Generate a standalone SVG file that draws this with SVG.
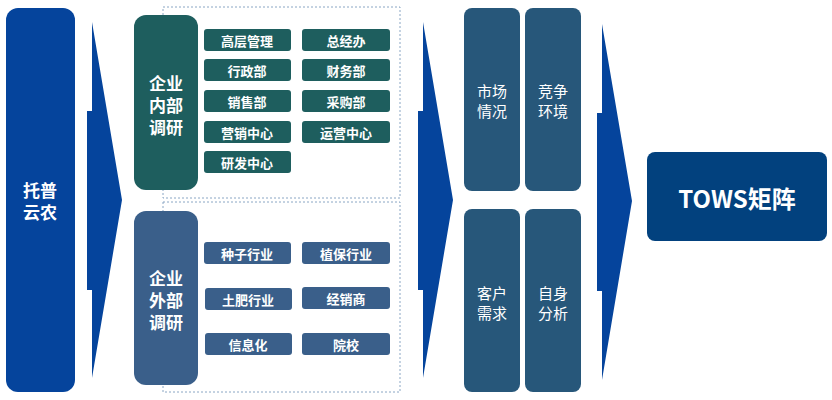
<svg xmlns="http://www.w3.org/2000/svg" width="832" height="400" viewBox="0 0 832 400">
<style>
text{font-family:"Noto Sans CJK SC","Liberation Sans",sans-serif;fill:#fff;text-anchor:middle;dominant-baseline:central}
.b{font-weight:bold}
.s{font-size:13px;font-weight:bold}
.dash{fill:none;stroke:#8aa6c4;stroke-width:1;stroke-dasharray:2 2}
.arr{fill:#05449c}
.tk{fill:#1e5e5e}
.bl{fill:#3a5f8a}
.mk{fill:#27577a}
</style>
<g id="connectors">
<polygon class="arr" points="92,22 122,200 92,378 92,290 87,290 87,111 92,111"/>
<polygon class="arr" points="423,22 453,200 423,378 423,290 418,290 418,111 423,111"/>
<polygon class="arr" points="602,24 632,201 602,380 602,291 597,291 597,113 602,113"/>
</g>
<g id="tuopu"><rect x="6" y="8" width="69" height="384" rx="12" fill="#05449c"/><text x="40" y="189" font-size="17" class="b">托普</text><text x="40" y="211" font-size="17" class="b">云农</text></g>
<rect class="dash" x="163" y="7" width="237" height="191"/>
<rect class="dash" x="163" y="202" width="237" height="190"/>
<g id="internal"><rect class="tk" x="134" y="15" width="64" height="175" rx="12"/>
<text x="166" y="82" font-size="17" class="b">企业</text><text x="166" y="104" font-size="17" class="b">内部</text><text x="166" y="126" font-size="17" class="b">调研</text></g>
<g id="external"><rect class="bl" x="134" y="211" width="64" height="174" rx="12"/>
<text x="166" y="277" font-size="17" class="b">企业</text><text x="166" y="299" font-size="17" class="b">外部</text><text x="166" y="321" font-size="17" class="b">调研</text></g>
<g id="n1"><rect class="tk" x="204" y="29" width="87" height="22" rx="3"/><text class="s" x="247" y="40">高层管理</text></g>
<g id="n2"><rect class="tk" x="302" y="29" width="88" height="22" rx="3"/><text class="s" x="346" y="40">总经办</text></g>
<g id="n3"><rect class="tk" x="204" y="59" width="87" height="22" rx="3"/><text class="s" x="247" y="70">行政部</text></g>
<g id="n4"><rect class="tk" x="302" y="59" width="88" height="22" rx="3"/><text class="s" x="346" y="70">财务部</text></g>
<g id="n5"><rect class="tk" x="204" y="90" width="87" height="22" rx="3"/><text class="s" x="247" y="101">销售部</text></g>
<g id="n6"><rect class="tk" x="302" y="90" width="88" height="22" rx="3"/><text class="s" x="346" y="101">采购部</text></g>
<g id="n7"><rect class="tk" x="204" y="121" width="87" height="22" rx="3"/><text class="s" x="247" y="132">营销中心</text></g>
<g id="n8"><rect class="tk" x="302" y="121" width="88" height="22" rx="3"/><text class="s" x="346" y="132">运营中心</text></g>
<g id="n9"><rect class="tk" x="204" y="151" width="87" height="22" rx="3"/><text class="s" x="247" y="162">研发中心</text></g>
<g id="m1"><rect class="bl" x="204" y="242" width="87" height="22" rx="3"/><text class="s" x="247" y="253">种子行业</text></g>
<g id="m2"><rect class="bl" x="302" y="242" width="88" height="22" rx="3"/><text class="s" x="346" y="253">植保行业</text></g>
<g id="m3"><rect class="bl" x="205" y="288" width="87" height="22" rx="3"/><text class="s" x="248" y="299">土肥行业</text></g>
<g id="m4"><rect class="bl" x="302" y="287" width="88" height="22" rx="3"/><text class="s" x="346" y="298">经销商</text></g>
<g id="m5"><rect class="bl" x="205" y="333" width="87" height="22" rx="3"/><text class="s" x="248" y="344">信息化</text></g>
<g id="m6"><rect class="bl" x="302" y="333" width="88" height="22" rx="3"/><text class="s" x="346" y="344">院校</text></g>
<g id="k1"><rect class="mk" x="464" y="8" width="56" height="183" rx="8"/><text x="492" y="90" font-size="15">市场</text><text x="492" y="110" font-size="15">情况</text></g>
<g id="k2"><rect class="mk" x="525" y="8" width="56" height="183" rx="8"/><text x="553" y="90" font-size="15">竞争</text><text x="553" y="110" font-size="15">环境</text></g>
<g id="k3"><rect class="mk" x="464" y="209" width="56" height="183" rx="8"/><text x="492" y="292" font-size="15">客户</text><text x="492" y="312" font-size="15">需求</text></g>
<g id="k4"><rect class="mk" x="525" y="209" width="56" height="183" rx="8"/><text x="553" y="292" font-size="15">自身</text><text x="553" y="312" font-size="15">分析</text></g>
<g id="tows"><rect x="647" y="152" width="180" height="89" rx="8" fill="#02417e"/><text x="737" y="197" font-size="24" class="b">TOWS矩阵</text></g>
</svg>
